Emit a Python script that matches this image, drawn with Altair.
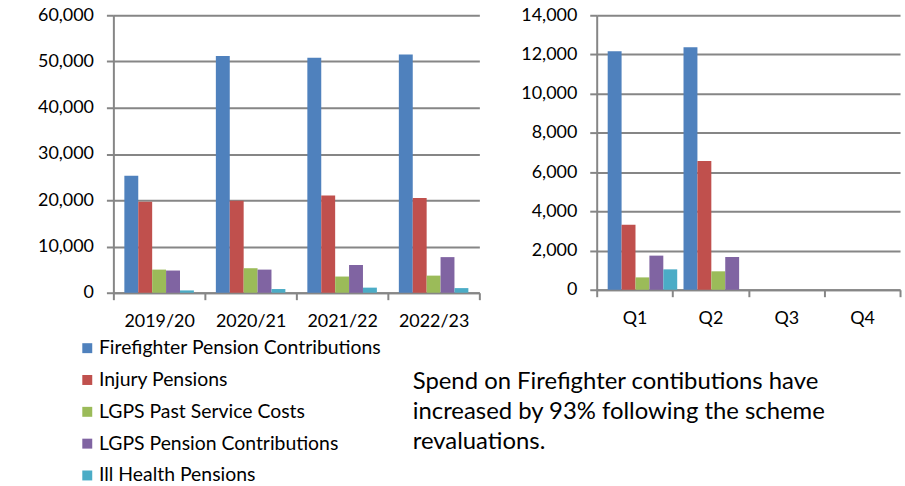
import altair as alt
import pandas as pd

# Series names and colours (Excel 2007 palette)
series = [
    "Firefighter Pension Contributions",
    "Injury Pensions",
    "LGPS Past Service Costs",
    "LGPS Pension Contributions",
    "Ill Health Pensions",
]
colors = ["#4F81BD", "#C0504D", "#9BBB59", "#8064A2", "#4BACC6"]

# Annual spend (£000)
years = ["2019/20", "2020/21", "2021/22", "2022/23"]
ff_contrib = [25300, 51200, 50800, 51500]
injury = [19700, 19900, 21000, 20500]
lgps_past = [5000, 5300, 3500, 3700]
lgps_contrib = [4800, 5000, 6000, 7700]
ill_health = [500, 800, 1100, 1000]

# Quarterly spend in the current year (£000)
quarters = ["Q1", "Q2", "Q3", "Q4"]
q_ff_contrib = [12160, 12370, 0, 0]
q_injury = [3320, 6570, 0, 0]
q_lgps_past = [630, 940, 0, 0]
q_lgps_contrib = [1740, 1670, 0, 0]
q_ill_health = [1040, 0, 0, 0]

note_lines = [
    "Spend on Firefighter contibutions have",
    "increased by 93% following the scheme",
    "revaluations.",
]

FONT = "Lato"
GRID = "#868686"


def long_table(cats, cols, key):
    rows = []
    for name, vals in zip(series, cols):
        for c, v in zip(cats, vals):
            rows.append({key: c, "Series": name, "Value": v})
    return pd.DataFrame(rows)


annual = long_table(years, [ff_contrib, injury, lgps_past, lgps_contrib, ill_health], "Period")
quarterly = long_table(
    quarters, [q_ff_contrib, q_injury, q_lgps_past, q_lgps_contrib, q_ill_health], "Period"
)

color = alt.Color(
    "Series:N",
    scale=alt.Scale(domain=series, range=colors),
    legend=alt.Legend(
        title=None,
        orient="none",
        legendX=-36,
        legendY=325,
        direction="vertical",
        symbolType="square",
        symbolSize=100,
        symbolStrokeWidth=0,
        labelFont=FONT,
        labelFontSize=19.5,
        labelColor="#000000",
        labelOffset=2,
        labelLimit=500,
        rowPadding=11,
        padding=0,
    ),
)


def panel(df, cats, ymax, ystep, width, height, outer):
    x = alt.X(
        "Period:N",
        sort=cats,
        scale=alt.Scale(domain=cats, paddingInner=0, paddingOuter=0),
        axis=alt.Axis(
            title=None,
            labelAngle=0,
            tickBand="extent",
            grid=False,
            labelPadding=13,
        ),
    )
    y = alt.Y(
        "Value:Q",
        scale=alt.Scale(domain=[0, ymax], nice=False),
        axis=alt.Axis(
            title=None,
            values=list(range(0, ymax + 1, ystep)),
            format=",d",
            grid=True,
            labelPadding=13,
        ),
    )
    return (
        alt.Chart(df)
        .mark_bar()
        .encode(
            x=x,
            xOffset=alt.XOffset(
                "Series:N", sort=series, scale=alt.Scale(domain=series, paddingOuter=outer, paddingInner=0)
            ),
            y=y,
            color=color,
        )
        .properties(width=width, height=height)
    )


left = panel(annual, years, 60000, 10000, 368, 279, 0.79)

# Commentary beneath the quarterly panel, one text per line
note = (
    alt.Chart(pd.DataFrame({"line": note_lines, "row": [0, 1, 2]}))
    .mark_text(align="left", baseline="alphabetic", font=FONT, fontSize=24, color="#000000")
    .encode(
        text="line:N",
        x=alt.value(-185),
        y=alt.Y("row:Q", axis=None, scale=alt.Scale(domain=[0, 2], range=[376, 436])),
    )
)

right = alt.layer(panel(quarterly, quarters, 14000, 2000, 305, 276, 0.74), note).resolve_scale(y="independent")

chart = (
    alt.hconcat(left, right, spacing=118, bounds="flush")
    .properties(padding={"left": 37, "top": 5, "right": 0, "bottom": 0})
    .configure_view(stroke=None)
    .configure_axis(
        labelFont=FONT,
        labelFontSize=18,
        labelColor="#000000",
        domainColor=GRID,
        domainWidth=2,
        tickColor=GRID,
        tickWidth=2,
        tickSize=7,
        gridColor=GRID,
        gridWidth=2,
    )
)

chart.save("out.html", embed_options={"renderer": "svg", "actions": False})
